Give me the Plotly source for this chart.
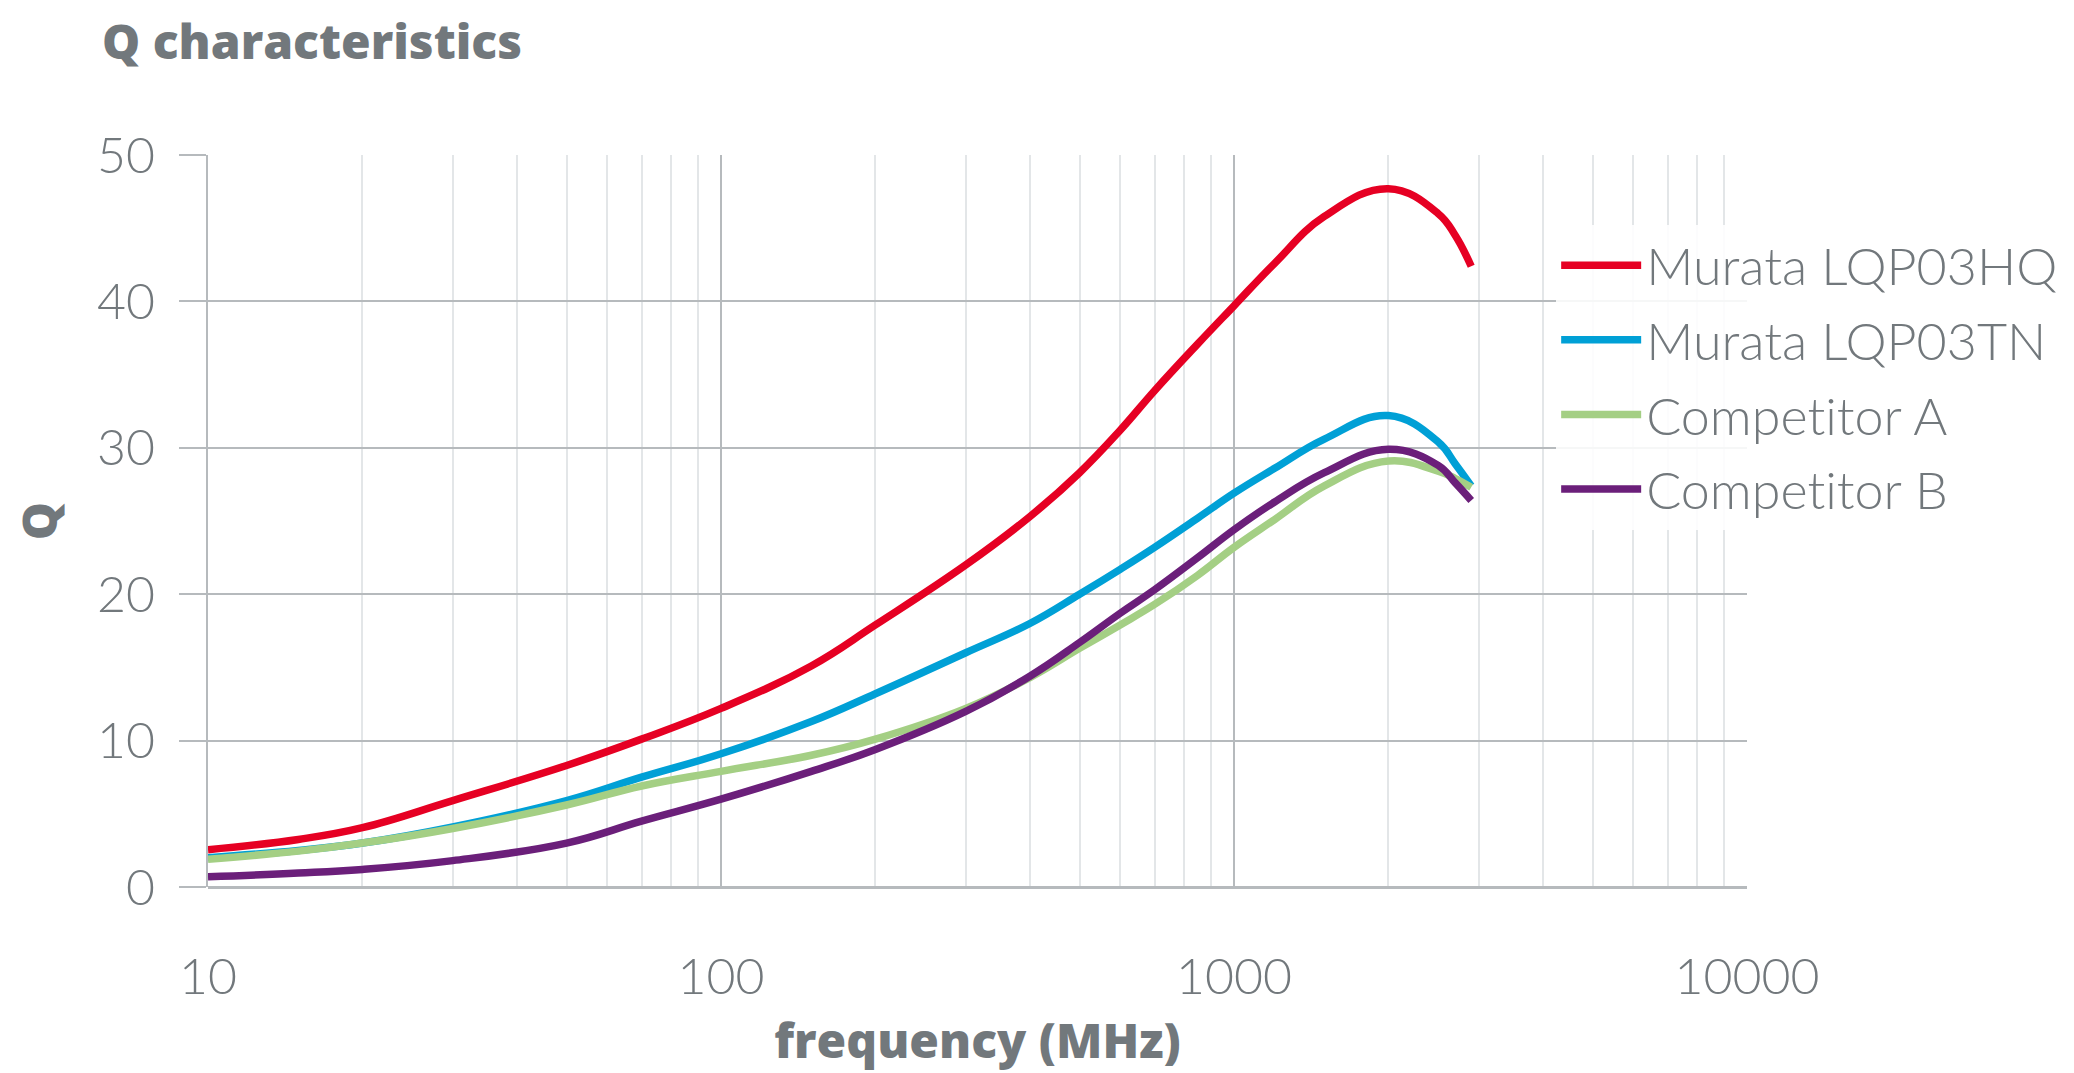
import plotly.graph_objects as go

freq = [10, 15, 20, 30, 50, 70, 100, 150, 200, 300, 400, 500, 600, 700, 850,
        1000, 1200, 1500, 2000, 2500, 2700, 2900]
q_lqp03hq = [2.55, 3.25, 4.05, 5.9, 8.3, 10.1, 12.2, 15.1, 17.9, 22.0, 25.3, 28.3, 31.2, 33.9, 37.1,
             39.7, 42.6, 45.8, 47.7, 46.0, 44.5, 42.4]
q_lqp03tn = [2.0, 2.5, 3.0, 4.1, 5.9, 7.5, 9.1, 11.3, 13.2, 16.0, 18.0, 20.0, 21.7, 23.2, 25.2,
             26.9, 28.6, 30.6, 32.2, 30.4, 28.9, 27.4]
q_comp_a = [1.9, 2.45, 3.0, 4.0, 5.6, 6.9, 7.9, 9.0, 10.1, 12.2, 14.3, 16.3, 17.9, 19.3, 21.3,
            23.2, 25.1, 27.4, 29.1, 28.4, 27.9, 27.3]
q_comp_b = [0.7, 0.95, 1.2, 1.8, 3.0, 4.5, 6.0, 7.9, 9.4, 12.0, 14.4, 16.7, 18.7, 20.3, 22.5,
            24.4, 26.3, 28.3, 29.9, 28.8, 27.6, 26.4]

series_names = ["Murata LQP03HQ", "Murata LQP03TN", "Competitor A", "Competitor B"]
series_vals = [q_lqp03hq, q_lqp03tn, q_comp_a, q_comp_b]
colors = ["#e60023", "#00a0d6", "#a4cf84", "#6b1f7a"]

x_ticks = [10, 100, 1000, 10000]
y_ticks = [0, 10, 20, 30, 40, 50]

TXT = "#72787c"
GRID = "#b6babd"
MINOR = "#e3e6e8"
FONT = "Lato"
BOLD = "Open Sans"

fig = go.Figure()
for i, (name, vals, col) in enumerate(zip(series_names, series_vals, colors)):
    # zero-width non-joiner keeps the light font from forming a "ti" ligature
    label = name.replace("ti", "t\u200ci")
    fig.add_trace(go.Scatter(
        x=freq, y=vals, name=label, mode="lines",
        line=dict(color=col, width=7.5, shape="spline", smoothing=1.2),
        legendgroup=f"g{i}",
    ))

fig.update_layout(
    width=2074, height=1073,
    margin=dict(l=208, r=327, t=155, b=186, autoexpand=False),
    paper_bgcolor="white", plot_bgcolor="white",
    font=dict(family=FONT, color=TXT, size=50, weight=300),
    title=dict(text="Q characteristics", x=102 / 2074, xanchor="left",
               y=1 - 42 / 1073, yanchor="middle",
               font=dict(family=BOLD, size=48, weight=800, color=TXT)),
    showlegend=True,
    legend=dict(x=0.876, xanchor="left", y=0.9045, yanchor="top",
                bgcolor="rgba(255,255,255,0.88)", borderwidth=0,
                font=dict(family=FONT, size=52, weight=300, color=TXT),
                tracegroupgap=4, itemwidth=80),
)

fig.update_xaxes(
    type="log", range=[1, 4], tickvals=x_ticks, ticktext=[str(v) for v in x_ticks],
    showgrid=True, gridcolor=GRID, gridwidth=2,
    minor=dict(dtick="D1", showgrid=True, gridcolor=MINOR, gridwidth=2),
    showline=False, zeroline=False,
    ticks="", ticklabelstandoff=56,
    tickfont=dict(family=FONT, size=50, weight=300, color=TXT),
    title=dict(text="frequency (MHz)", standoff=20,
               font=dict(family=BOLD, size=48, weight=800, color=TXT)),
)
fig.update_yaxes(
    range=[0, 50], tickvals=y_ticks,
    showgrid=True, gridcolor=GRID, gridwidth=2,
    zeroline=True, zerolinecolor=GRID, zerolinewidth=3,
    showline=True, linecolor=GRID, linewidth=2,
    ticks="outside", ticklen=27, tickcolor=GRID, tickwidth=2,
    ticklabelstandoff=14,
    tickfont=dict(family=FONT, size=50, weight=300, color=TXT),
    title=dict(text="Q", standoff=24,
               font=dict(family=BOLD, size=48, weight=800, color=TXT)),
)

fig.write_html("out.html")
